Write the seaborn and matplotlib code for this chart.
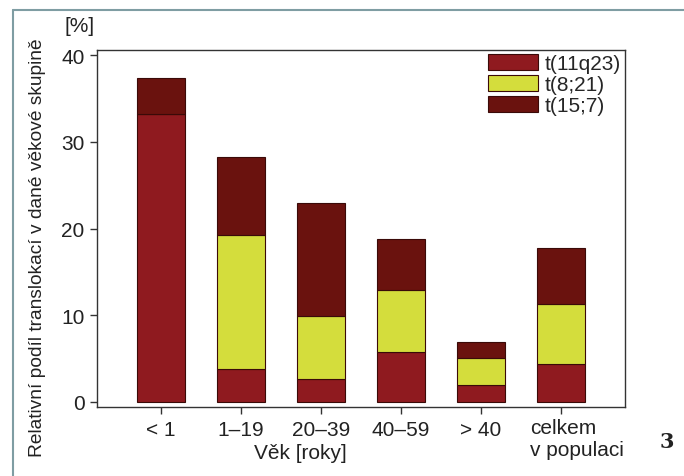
import matplotlib
matplotlib.use("Agg")
import matplotlib.pyplot as plt
import matplotlib.transforms as mtransforms
import seaborn as sns
import pandas as pd
import numpy as np

categories = ["< 1", "1–19", "20–39", "40–59", "> 40", "celkem\nv populaci"]
t11q23 = [33.2, 3.8, 2.6, 5.8, 1.9, 4.4]
t8_21 = [0.0, 15.4, 7.3, 7.15, 3.2, 6.85]
t15_7 = [4.2, 9.0, 13.1, 5.8, 1.8, 6.55]
series_names = ["t(11q23)", "t(8;21)", "t(15;7)"]
colors = ["#8f1a1f", "#d4dd3c", "#6a120e"]

sns.set_theme(style="white")
plt.rcParams["font.family"] = ["Liberation Sans Narrow", "Liberation Sans", "DejaVu Sans"]

fig = plt.figure(figsize=(6.84, 4.77), dpi=100)
ax = fig.add_axes([97/684, 1 - 408/477, (625-97)/684, (408-51)/477])

df = pd.DataFrame({"cat": categories, "a": t11q23, "b": t8_21, "c": t15_7})
bottom = np.zeros(len(categories))
for key, name, col in zip(["a", "b", "c"], series_names, colors):
    vals = df[key].values
    sns.barplot(x=df["cat"], y=vals, bottom=bottom, color=col, width=0.6,
                saturation=1, edgecolor="#3a0a08", linewidth=0.8, ax=ax,
                label=name, order=categories)
    bottom = bottom + vals

ax.set_xlim(-0.8, 5.8)
ax.set_ylim(-0.6, 40.6)
ax.set_yticks([0, 10, 20, 30, 40])
ax.set_yticklabels(["0", "10", "20", "30", "40"], fontsize=15)
ax.set_xticks(range(len(categories)))
ax.set_xticklabels([c if "\n" not in c else "" for c in categories], fontsize=15)
ax.tick_params(axis="both", direction="out", length=5, width=1, color="#333333",
               left=True, bottom=True, pad=4, labelcolor="#222222")
# multi-line last category label, left aligned as in the reference
last_i = len(categories) - 1
trans = mtransforms.blended_transform_factory(ax.transData, ax.transAxes) + \
    mtransforms.ScaledTranslation(-31/100, -11/100, fig.dpi_scale_trans)
ax.text(last_i, 0, categories[last_i], transform=trans, ha="left", va="top",
        fontsize=15, color="#222222", linespacing=1.2)
for s in ax.spines.values():
    s.set_color("#333333")
    s.set_linewidth(1.0)

ax.set_xlabel("")
ax.set_ylabel("")
fig.text(300/684, 1 - 454/477, "Věk [roky]", ha="center", va="center",
         fontsize=15, color="#222222")
fig.text(38/684, 1 - 248/477, "Relativní podíl translokací v dané věkové skupině",
         rotation=90, ha="center", va="center", fontsize=13.8, color="#222222")
fig.text(80/684, 1 - 27/477, "[%]", ha="center", va="center", fontsize=15, color="#222222")
fig.text(667/684, 1 - 442/477, "3", ha="center", va="center", fontsize=15,
         fontweight="bold", family="DejaVu Serif", color="#222222")

leg = ax.legend(loc="upper right", frameon=False, fontsize=15, handlelength=2.4,
                handleheight=0.75, labelspacing=0.1, handletextpad=0.3,
                borderaxespad=0.0, borderpad=0.2)

# outer frame lines
fig.add_artist(plt.Line2D([13/684, 13/684], [0, 1 - 11/477], color="#7f9da3", lw=1.5))
fig.add_artist(plt.Line2D([13/684, 1], [1 - 11/477, 1 - 11/477], color="#7f9da3", lw=1.5))

fig.savefig("out.png", dpi=100)
